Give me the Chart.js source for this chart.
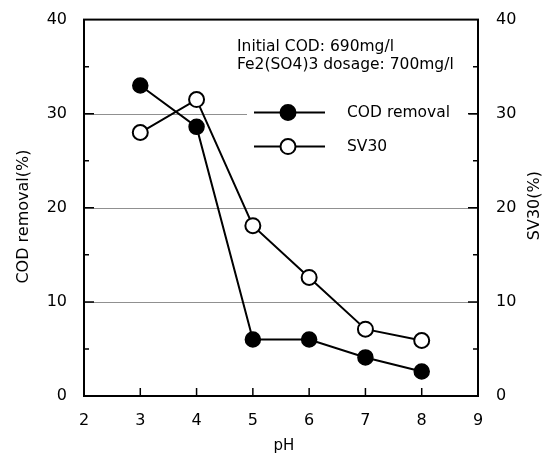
<!DOCTYPE html>
<html>
<head>
<meta charset="utf-8">
<script src="https://cdn.jsdelivr.net/npm/chart.js@4/dist/chart.umd.min.js"></script>
<style>
  html, body { margin: 0; padding: 0; background: #fff; }
  #wrap { width: 548px; height: 458px; }
</style>
</head>
<body>
<div id="wrap"><canvas id="c" width="548" height="458"></canvas></div>
<script>
const phValues = [3, 4, 5, 6, 7, 8];
const codRemoval = [33, 28.6, 6, 6, 4.1, 2.6];
const sv30 = [28, 31.5, 18.1, 12.6, 7.1, 5.9];
const yTicks = [0, 10, 20, 30, 40];
const xTicks = [2, 3, 4, 5, 6, 7, 8, 9];
const noteLines = ['Initial COD: 690mg/l', 'Fe2(SO4)3 dosage: 700mg/l'];

const FONT = '"DejaVu Sans", Verdana, sans-serif';

const toPoints = (ys) => phValues.map((x, i) => ({ x: x, y: ys[i] }));

// frame, inward ticks, grid lines, titles, note and legend
const decor = {
  id: 'decor',
  beforeDatasetsDraw(chart) {
    const ctx = chart.ctx;
    const a = chart.chartArea;
    const y = chart.scales.y;
    ctx.save();
    ctx.strokeStyle = '#909090';
    ctx.lineWidth = 1;
    [10, 20, 30].forEach(v => {
      const py = Math.round(y.getPixelForValue(v)) + 0.5;
      ctx.beginPath();
      ctx.moveTo(a.left, py);
      ctx.lineTo(a.right, py);
      ctx.stroke();
    });
    ctx.restore();
  },
  afterDatasetsDraw(chart) {
    const ctx = chart.ctx;
    const a = chart.chartArea;
    const x = chart.scales.x;
    const y = chart.scales.y;
    ctx.save();

    // legend box hides the grid line behind it
    ctx.fillStyle = '#fff';
    ctx.fillRect(a.left + 163, y.getPixelForValue(31.5), 222, 40);

    ctx.strokeStyle = '#000';
    ctx.lineWidth = 2;
    ctx.strokeRect(a.left, a.top, a.right - a.left, a.bottom - a.top);

    ctx.lineWidth = 1.5;
    for (let v = 5; v < 40; v += 5) {
      const py = y.getPixelForValue(v);
      const len = v % 10 === 0 ? 10 : 5;
      ctx.beginPath();
      ctx.moveTo(a.left, py); ctx.lineTo(a.left + len, py);
      ctx.moveTo(a.right, py); ctx.lineTo(a.right - len, py);
      ctx.stroke();
    }
    for (let v = 3; v < 9; v++) {
      const px = x.getPixelForValue(v);
      ctx.beginPath();
      ctx.moveTo(px, a.bottom); ctx.lineTo(px, a.bottom - 8);
      ctx.stroke();
    }

    // axis titles
    ctx.fillStyle = '#000';
    ctx.textAlign = 'center';
    ctx.textBaseline = 'middle';
    ctx.font = '15px ' + FONT;
    ctx.fillText('pH', (a.left + a.right) / 2 + 3, a.bottom + 50);
    ctx.font = '16px ' + FONT;
    ctx.save();
    ctx.translate(24, a.top + 197);
    ctx.rotate(-Math.PI / 2);
    ctx.fillText('COD removal(%)', 0, 0);
    ctx.restore();
    ctx.save();
    ctx.translate(a.right + 57, a.top + 186);
    ctx.rotate(-Math.PI / 2);
    ctx.fillText('SV30(%)', 0, 0);
    ctx.restore();

    // note
    ctx.font = '15.5px ' + FONT;
    ctx.textAlign = 'left';
    ctx.fillText(noteLines[0], a.left + 153, a.top + 27);
    ctx.fillText(noteLines[1], a.left + 153, a.top + 45);

    // legend
    const rows = [
      { label: 'COD removal', fill: '#000', py: a.top + 93 },
      { label: 'SV30', fill: '#fff', py: a.top + 127 }
    ];
    rows.forEach(r => {
      ctx.strokeStyle = '#000';
      ctx.lineWidth = 2;
      ctx.beginPath();
      ctx.moveTo(a.left + 170, r.py);
      ctx.lineTo(a.left + 241, r.py);
      ctx.stroke();
      ctx.beginPath();
      ctx.arc(a.left + 204, r.py, 7.5, 0, Math.PI * 2);
      ctx.fillStyle = r.fill;
      ctx.fill();
      ctx.stroke();
      ctx.fillStyle = '#000';
      ctx.fillText(r.label, a.left + 263, r.py);
    });
    ctx.restore();
  }
};

new Chart(document.getElementById('c'), {
  type: 'scatter',
  data: {
    datasets: [
      {
        label: 'COD removal',
        data: toPoints(codRemoval),
        showLine: true,
        borderColor: '#000',
        borderWidth: 2,
        backgroundColor: '#000',
        pointBackgroundColor: '#000',
        pointBorderColor: '#000',
        pointBorderWidth: 1.5,
        pointRadius: 7.5,
        yAxisID: 'y'
      },
      {
        label: 'SV30',
        data: toPoints(sv30),
        showLine: true,
        borderColor: '#000',
        borderWidth: 2,
        backgroundColor: '#fff',
        pointBackgroundColor: '#fff',
        pointBorderColor: '#000',
        pointBorderWidth: 2,
        pointRadius: 7.5,
        yAxisID: 'y2'
      }
    ]
  },
  options: {
    responsive: false,
    animation: false,
    layout: { padding: { top: 14, left: 0, right: 0, bottom: 0 } },
    plugins: { legend: { display: false }, tooltip: { enabled: false } },
    scales: {
      x: {
        type: 'linear',
        min: 2, max: 9,
        afterBuildTicks: s => { s.ticks = xTicks.map(v => ({ value: v })); },
        afterFit: s => { s.height = 62; },
        grid: { display: false },
        border: { display: false },
        ticks: { color: '#000', font: { family: FONT, size: 16 }, padding: 7, maxRotation: 0 }
      },
      y: {
        position: 'left',
        min: 0, max: 40,
        afterBuildTicks: s => { s.ticks = yTicks.map(v => ({ value: v })); },
        afterFit: s => { s.width = 84; },
        grid: { display: false },
        border: { display: false },
        ticks: { color: '#000', font: { family: FONT, size: 16 }, padding: 9 }
      },
      y2: {
        position: 'right',
        min: 0, max: 40,
        afterBuildTicks: s => { s.ticks = yTicks.map(v => ({ value: v })); },
        afterFit: s => { s.width = 70; },
        grid: { display: false },
        border: { display: false },
        ticks: { color: '#000', font: { family: FONT, size: 16 }, padding: 10 }
      }
    }
  },
  plugins: [decor]
});
</script>
</body>
</html>
